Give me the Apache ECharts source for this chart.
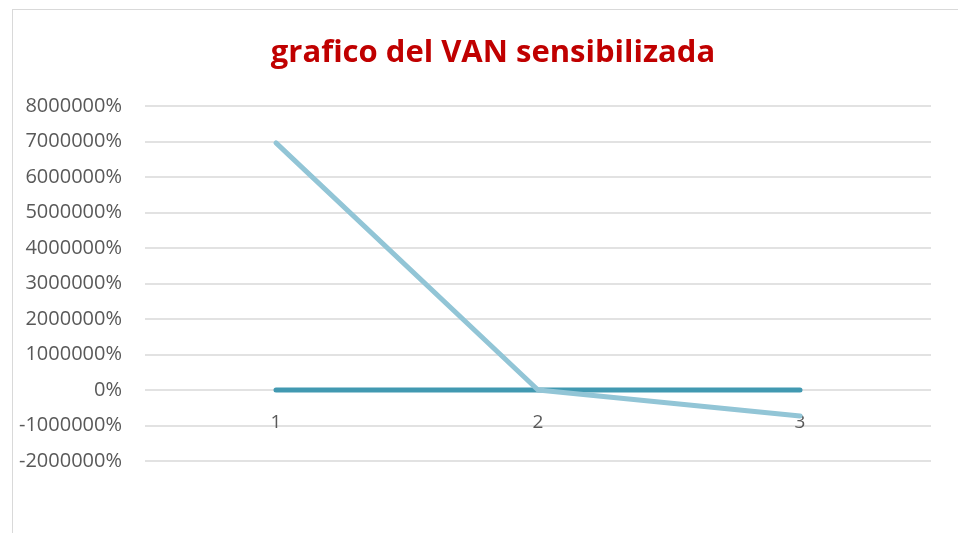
<!DOCTYPE html>
<html>
<head>
<meta charset="utf-8">
<script src="https://cdn.jsdelivr.net/npm/echarts@6/dist/echarts.min.js"></script>
<style>
  html, body { margin: 0; padding: 0; background: #fff; }
  #frame { position: absolute; left: 12px; top: 9px; width: 960px; height: 540px;
           border: 1px solid #d9d9d9; box-sizing: border-box; }
  #chart-container { position: absolute; left: 0; top: 0; width: 958px; height: 533px; }
</style>
</head>
<body>
<div id="frame"></div>
<div id="chart-container"></div>
<script>
var categories = ['1', '2', '3'];
// values in percent, as shown on the axis
var vanBase = [0, 0, 0];
var vanSens = [6960000, 0, -730000];
var yTicks = { min: -2000000, max: 8000000, step: 1000000 };

var dom = document.getElementById('chart-container');
var myChart = echarts.init(dom, null, { renderer: 'canvas' });

var labelFont = '"Open Sans", sans-serif';

var option = {
  backgroundColor: 'transparent',
  animation: false,
  title: {
    text: 'grafico del VAN sensibilizada',
    left: 488,
    top: 33,
    textAlign: 'center',
    textStyle: {
      color: '#c00000',
      fontSize: 31,
      fontWeight: 'bold',
      fontFamily: '"Open Sans", sans-serif'
    }
  },
  grid: { left: 145, right: 27, top: 106, bottom: 72, containLabel: false },
  xAxis: {
    type: 'category',
    data: categories,
    boundaryGap: true,
    position: 'bottom',
    // labels sit just under the 0% line, two gridlines above the bottom
    offset: -71,
    axisLine: { show: false, onZero: false },
    axisTick: { show: false },
    axisLabel: { color: '#595959', fontSize: 19, fontFamily: labelFont, margin: 23 },
    splitLine: { show: false }
  },
  yAxis: {
    type: 'value',
    min: yTicks.min,
    max: yTicks.max,
    interval: yTicks.step,
    axisLine: { show: false },
    axisTick: { show: false },
    axisLabel: {
      color: '#595959',
      fontSize: 20,
      fontFamily: labelFont,
      margin: 23,
      formatter: function (v) { return v + '%'; }
    },
    splitLine: { lineStyle: { color: '#d9d9d9', width: 1.5 } }
  },
  series: [
    {
      name: 'VAN',
      type: 'line',
      data: vanBase,
      showSymbol: false,
      lineStyle: { color: '#4299b1', width: 5, cap: 'round' },
      z: 2
    },
    {
      name: 'VAN sensibilizada',
      type: 'line',
      data: vanSens,
      showSymbol: false,
      lineStyle: { color: '#92c5d6', width: 5, cap: 'round' },
      z: 3
    }
  ]
};

myChart.setOption(option);
window.addEventListener('resize', myChart.resize);
</script>
</body>
</html>
